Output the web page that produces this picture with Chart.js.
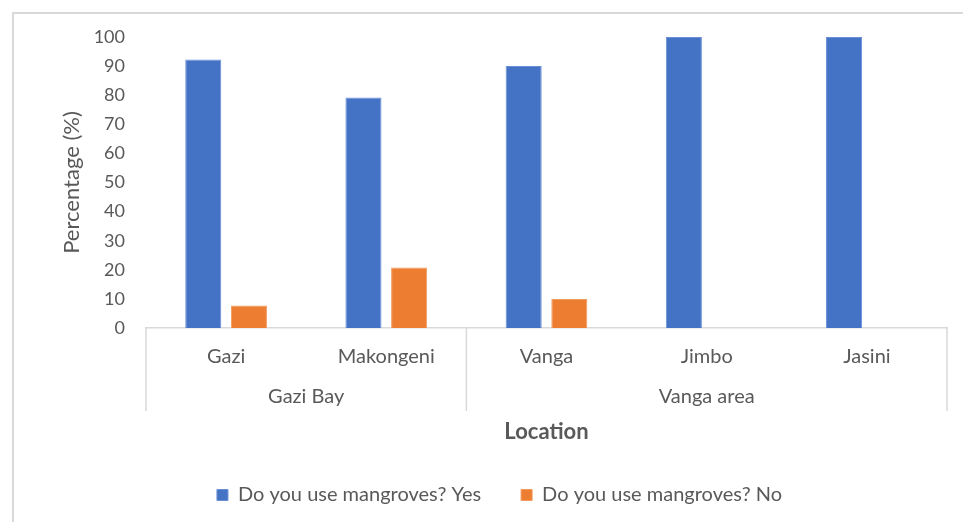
<!DOCTYPE html>
<html lang="en">
<head>
<meta charset="UTF-8">
<title>Do you use mangroves?</title>
<script src="https://cdn.jsdelivr.net/npm/chart.js"></script>
<style>
  html, body { margin: 0; padding: 0; background: #fff; overflow: hidden; }
  #frame { position: absolute; left: 12px; top: 12px; width: 980px; height: 540px; border: 2px solid #d9d9d9; }
  #wrap { position: absolute; left: 0; top: 0; width: 963px; height: 522px; }
</style>
</head>
<body>
<div id="frame"></div>
<div id="wrap"><canvas id="chart"></canvas></div>
<script>
// data
const locations = ['Gazi', 'Makongeni', 'Vanga', 'Jimbo', 'Jasini'];
const areas = ['Gazi Bay', 'Vanga area'];
const areaSizes = [2, 3]; // how many locations fall under each area
const yesValues = [92.3, 79.2, 90, 100, 100];
const noValues = [7.7, 20.8, 10, 0, 0];

const textColor = '#595959';
const lineColor = '#d9d9d9';
const fontFamily = 'Lato, "Open Sans", sans-serif';

// second row of category labels + separator lines under the x axis
const groupAxis = {
    id: 'groupAxis',
    afterLayout(chart) {
        // the legend sits a bit right of centre in the original
        chart.legend.left += 26;
        chart.legend.right += 26;
    },
    afterDraw(chart) {
        const ctx = chart.ctx;
        const x = chart.scales.x;
        const half = (x.getPixelForTick(1) - x.getPixelForTick(0)) / 2;
        const top = chart.chartArea.bottom;
        const bottom = top + 83;
        ctx.save();
        ctx.strokeStyle = lineColor;
        ctx.lineWidth = 1.5;
        ctx.fillStyle = textColor;
        ctx.font = '20px ' + fontFamily;
        ctx.textAlign = 'center';
        ctx.textBaseline = 'middle';
        let start = 0;
        const edges = [x.getPixelForTick(0) - half];
        areas.forEach((name, i) => {
            const end = start + areaSizes[i] - 1;
            const left = x.getPixelForTick(start) - half;
            const right = x.getPixelForTick(end) + half;
            edges.push(right);
            ctx.fillText(name, (left + right) / 2, top + 69);
            start = end + 1;
        });
        edges.forEach(px => {
            ctx.beginPath();
            ctx.moveTo(px, top);
            ctx.lineTo(px, bottom);
            ctx.stroke();
        });
        ctx.restore();
    }
};

new Chart(document.getElementById('chart'), {
    type: 'bar',
    data: {
        labels: locations,
        datasets: [
            {
                label: 'Do you use mangroves? Yes',
                data: yesValues,
                backgroundColor: '#4472C4',
                borderColor: '#6a8fd6',
                borderWidth: 1,
                categoryPercentage: 0.57,
                barPercentage: 0.79
            },
            {
                label: 'Do you use mangroves? No',
                data: noValues,
                backgroundColor: '#ED7D31',
                borderColor: '#f29a5e',
                borderWidth: 1,
                categoryPercentage: 0.57,
                barPercentage: 0.79
            }
        ]
    },
    options: {
        responsive: true,
        maintainAspectRatio: false,
        animation: false,
        layout: { padding: { left: 0, top: 37, right: 16, bottom: 7 } },
        plugins: {
            legend: {
                position: 'bottom',
                labels: {
                    color: textColor,
                    font: { family: fontFamily, size: 20 },
                    boxWidth: 11,
                    boxHeight: 11,
                    padding: 40
                }
            },
            tooltip: { enabled: false }
        },
        scales: {
            x: {
                grid: { display: false },
                border: { display: true, color: lineColor, width: 1.5 },
                ticks: {
                    color: textColor,
                    font: { family: fontFamily, size: 20 },
                    padding: 9,
                    maxRotation: 0
                },
                title: {
                    display: true,
                    text: 'Location',
                    color: textColor,
                    font: { family: fontFamily, size: 22, weight: 'bold' },
                    padding: { top: 0, bottom: 0 }
                },
                afterFit(scale) { scale.height = 117; }
            },
            y: {
                min: 0,
                max: 100,
                grid: { display: false, drawTicks: false },
                border: { display: false },
                ticks: {
                    stepSize: 10,
                    color: textColor,
                    font: { family: fontFamily, size: 18 },
                    padding: 21
                },
                title: {
                    display: true,
                    text: 'Percentage (%)',
                    color: textColor,
                    font: { family: fontFamily, size: 22 },
                    padding: { top: 59, bottom: 0 }
                },
                afterFit(scale) { scale.width = 146; }
            }
        }
    },
    plugins: [groupAxis]
});
</script>
</body>
</html>
